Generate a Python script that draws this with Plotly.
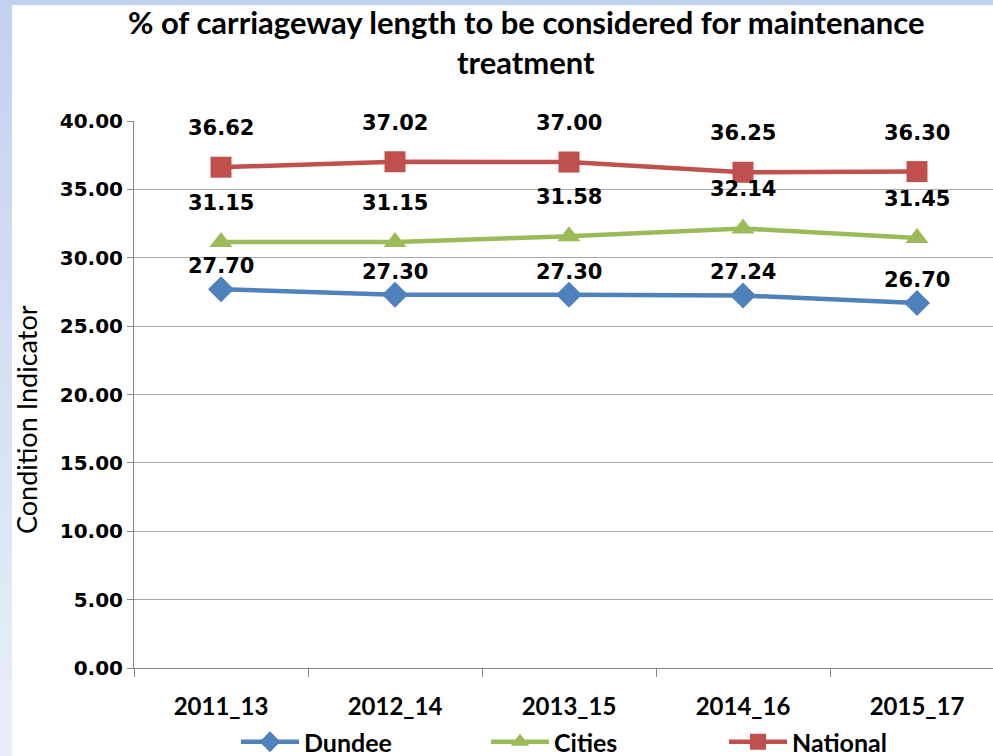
import plotly.graph_objects as go

categories = ["2011_13", "2012_14", "2013_15", "2014_16", "2015_17"]
dundee = [27.70, 27.30, 27.30, 27.24, 26.70]
cities = [31.15, 31.15, 31.58, 32.14, 31.45]
national = [36.62, 37.02, 37.00, 36.25, 36.30]
y_ticks = [0, 5, 10, 15, 20, 25, 30, 35, 40]

W, H = 993, 756
ML, MT, MB, MR = 134, 121, 88, 0
PW = W - ML - MR
PH = H - MT - MB


def py(ypx):
    """image pixel row -> paper y"""
    return 1 + (MT - ypx) / PH


def px(xpx):
    """image pixel column -> paper x"""
    return (xpx - ML) / PW


# name, values, colour, symbol, marker size, label shift, legend id, legend left px
series = [
    ("Dundee", dundee, "#4F81BD", "diamond", 20, 23, "legend", 236),
    ("Cities", cities, "#9BBB59", "triangle-up", 20, 39, "legend2", 486),
    ("National", national, "#C0504D", "square", 21, 39, "legend3", 724),
]

legend_font = dict(family="Lato", size=25, color="#000000", weight="bold")

fig = go.Figure()
annotations = []
legends = {}
for name, vals, color, sym, msize, off, lg, lx in series:
    fig.add_trace(go.Scatter(
        x=categories, y=vals, name=name, mode="lines+markers",
        line=dict(color=color, width=4.5),
        marker=dict(symbol=sym, size=msize, color=color),
        hoverinfo="skip", legend=lg,
    ))
    legends[lg] = dict(
        orientation="h", x=px(lx), xanchor="left", y=py(742), yanchor="middle",
        itemwidth=58, font=legend_font, bgcolor="rgba(0,0,0,0)",
    )
    for c, v in zip(categories, vals):
        annotations.append(dict(
            x=c, y=v, xref="x", yref="y", text=f"{v:.2f}", showarrow=False,
            yshift=off, font=dict(family="DejaVu Sans", size=21, color="#000000", weight="bold"),
        ))

title_font = dict(family="Lato", size=31, color="#000000", weight="bold")
annotations.append(dict(x=px(526), y=py(22), xref="paper", yref="paper", showarrow=False,
                        text="% of carriageway length to be considered for maintenance",
                        xanchor="center", yanchor="middle", font=title_font))
annotations.append(dict(x=px(526), y=py(62), xref="paper", yref="paper", showarrow=False,
                        text="treatment", xanchor="center", yanchor="middle", font=title_font))
annotations.append(dict(x=px(26), y=py(420), xref="paper", yref="paper", showarrow=False,
                        text="Condition Indicator", textangle=-90,
                        xanchor="center", yanchor="middle",
                        font=dict(family="Lato", size=27, color="#000000")))

# background strips (left gradient, top band)
shapes = []
n = 40
top_c = (194, 210, 238)
bot_c = (233, 239, 249)
seg = H / n
for i in range(n):
    t = i / (n - 1)
    col = tuple(round(top_c[k] + (bot_c[k] - top_c[k]) * t) for k in range(3))
    shapes.append(dict(type="rect", xref="paper", yref="paper",
                       x0=px(0), x1=px(12), y0=py((i + 1) * seg + 0.5), y1=py(i * seg),
                       fillcolor="rgb(%d,%d,%d)" % col, line=dict(width=0), layer="above"))
shapes.append(dict(type="rect", xref="paper", yref="paper",
                   x0=px(0), x1=px(W), y0=py(5), y1=py(-1),
                   fillcolor="rgb(194,210,238)", line=dict(width=0), layer="above"))

fig.update_layout(
    width=W, height=H,
    margin=dict(l=ML, r=MR, t=MT, b=MB, pad=0, autoexpand=False),
    paper_bgcolor="#FFFFFF", plot_bgcolor="#FFFFFF",
    xaxis=dict(
        type="category", categoryorder="array", categoryarray=categories,
        range=[-0.5, -0.5 + PW / 174.0],
        showgrid=False, showline=True, linecolor="#868686", linewidth=1,
        ticks="outside", tickson="boundaries", ticklen=8, tickcolor="#868686",
        ticklabelstandoff=17,
        tickfont=dict(family="Lato", size=24, color="#000000", weight="bold"),
        zeroline=False,
    ),
    yaxis=dict(
        range=[0, 40], tickvals=y_ticks, ticktext=[f"{v:.2f}" for v in y_ticks],
        showgrid=True, gridcolor="#A6A6A6", gridwidth=1,
        showline=True, linecolor="#868686", linewidth=1,
        ticks="outside", ticklen=6, tickcolor="#868686",
        tickfont=dict(family="DejaVu Sans", size=20, color="#000000", weight="bold"),
        zeroline=False,
    ),
    showlegend=True,
    annotations=annotations,
    shapes=shapes,
    **legends,
)

fig.write_html(
    "out.html",
    config={"displayModeBar": False},
    post_script="document.body.style.margin='0px';document.body.style.overflow='hidden';",
)
